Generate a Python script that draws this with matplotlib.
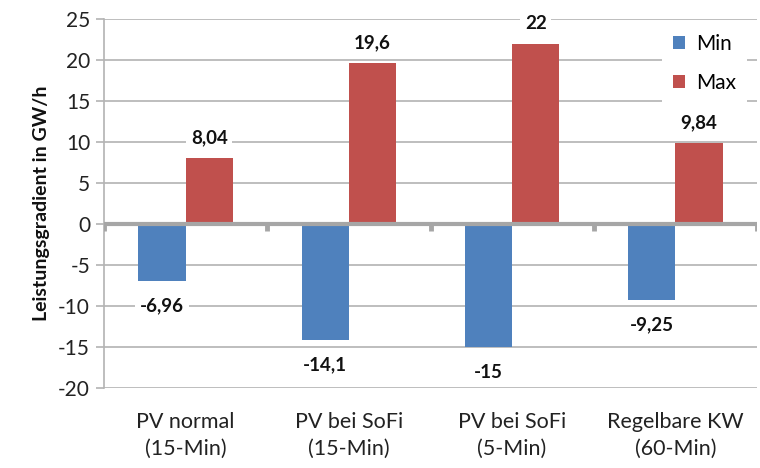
import matplotlib
matplotlib.use("Agg")
import matplotlib.pyplot as plt
import numpy as np

plt.rcParams['font.family'] = ['Lato', 'DejaVu Sans']

categories = ["PV normal\n(15-Min)", "PV bei SoFi\n(15-Min)", "PV bei SoFi\n(5-Min)", "Regelbare KW\n(60-Min)"]
min_vals = [-6.96, -14.1, -15, -9.25]
max_vals = [8.04, 19.6, 22, 9.84]
min_labels = ["-6,96", "-14,1", "-15", "-9,25"]
max_labels = ["8,04", "19,6", "22", "9,84"]
yticks = [-20, -15, -10, -5, 0, 5, 10, 15, 20, 25]

blue = "#4F81BD"
red = "#C0504D"
grid_c = "#B3B3B3"

fig = plt.figure(figsize=(7.6, 4.68), dpi=100)
ax = fig.add_axes([104/760, 1-388/468, 653/760, (388-19)/468])

x = np.arange(len(categories))
w = 0.29
ax.bar(x - w/2, min_vals, width=w, color=blue, label="Min", zorder=3)
ax.bar(x + w/2, max_vals, width=w, color=red, label="Max", zorder=3)

ax.set_xlim(-0.5, len(categories) - 0.5)
ax.set_ylim(-20, 25)
ax.set_yticks(yticks)
ax.set_yticklabels([str(t) for t in yticks], fontsize=15, color="#222222")
ax.yaxis.grid(True, color=grid_c, linewidth=1.2, zorder=0)
ax.tick_params(axis='y', length=6, color=grid_c, width=1.2, pad=4)

ax.set_xticks(x)
ax.set_xticklabels(categories, fontsize=15.5, linespacing=1.45, color="#222222")
ax.tick_params(axis='x', length=0, pad=17)

for s in ['top', 'right', 'bottom']:
    ax.spines[s].set_visible(False)
ax.spines['left'].set_color(grid_c)
ax.spines['left'].set_linewidth(1.2)

# zero line with category-boundary ticks
ax.axhline(0, color="#A6A6A6", linewidth=3, zorder=4)
for b in np.arange(-0.5, len(categories) + 0.5, 1.0):
    ax.plot([b, b], [0, -0.9], color="#A6A6A6", linewidth=3.5, zorder=4, solid_capstyle='butt')

for xi, v, lab in zip(x, max_vals, max_labels):
    ax.annotate(lab, (xi + w/2, v), xytext=(0, 14.5), textcoords='offset points',
                ha='center', va='center', fontsize=13.5, fontweight='bold', color="#111111",
                bbox=dict(boxstyle='square,pad=0.25', fc='white', ec='none'), zorder=5)
for xi, v, lab in zip(x, min_vals, min_labels):
    ax.annotate(lab, (xi - w/2, v), xytext=(0, -18), textcoords='offset points',
                ha='center', va='center', fontsize=13.5, fontweight='bold', color="#111111",
                bbox=dict(boxstyle='square,pad=0.25', fc='white', ec='none'), zorder=5)

ax.set_ylabel("Leistungsgradient in GW/h", fontsize=14, fontweight='bold', color="#111111", labelpad=6)

leg = ax.legend(loc='upper right', bbox_to_anchor=(1.0, 1.016), frameon=True, fontsize=15,
                handlelength=0.58, handleheight=0.58, handletextpad=0.55, labelspacing=0.9,
                borderpad=0.5, fancybox=False)
leg.get_frame().set_facecolor('white')
leg.get_frame().set_edgecolor('none')
leg.get_frame().set_alpha(1)

fig.savefig("out.png", dpi=100)
